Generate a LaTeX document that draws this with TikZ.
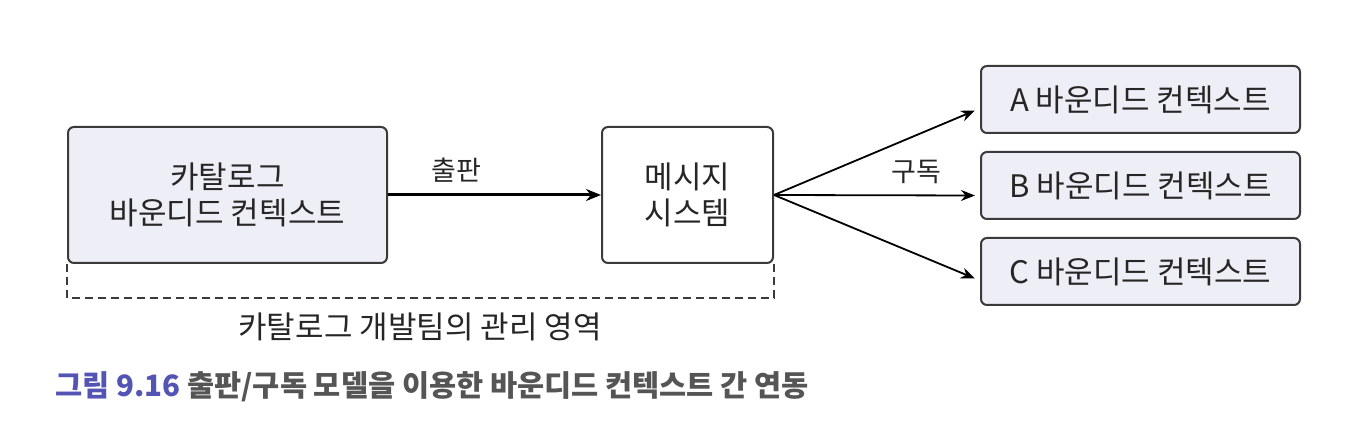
\documentclass[tikz,border=0pt]{standalone}
\usepackage{fontspec}
\setmainfont{Noto Sans CJK KR}
\usetikzlibrary{arrows.meta}
\definecolor{boxfill}{HTML}{EEEEF6}
\definecolor{boxline}{HTML}{3A3A3A}
\definecolor{capblue}{HTML}{5454B4}
\definecolor{capgray}{HTML}{555555}
\begin{document}
\begin{tikzpicture}[x=1pt, y=-1pt,
    ctx/.style={draw=boxline, line width=2pt, rounded corners=6pt, fill=boxfill,
                align=center, font=\fontsize{31}{36}\selectfont, text=black!85},
    pub/.style={line width=3pt, -{Stealth[length=15pt,width=12pt]}},
    sub/.style={line width=1.8pt, -{Stealth[length=14pt,width=11pt]}},
    lbl/.style={font=\fontsize{27}{30}\selectfont, text=black!85}]
    \useasboundingbox (0,0) rectangle (1366,446);

    % 카탈로그 / 메시지 시스템
    \node[ctx, minimum width=319pt, minimum height=136pt] (cat) at (227.5,195) {카탈로그\\바운디드 컨텍스트};
    \node[ctx, fill=white, minimum width=171pt, minimum height=136pt] (msg) at (687.5,195) {메시지\\시스템};

    % 구독하는 컨텍스트
    \node[ctx, minimum width=319pt, minimum height=67pt] (ctxa) at (1140.5,99.5) {A 바운디드 컨텍스트};
    \node[ctx, minimum width=319pt, minimum height=67pt] (ctxb) at (1140.5,185.5) {B 바운디드 컨텍스트};
    \node[ctx, minimum width=319pt, minimum height=67pt] (ctxc) at (1140.5,271.5) {C 바운디드 컨텍스트};

    % 출판
    \draw[pub] (cat.east) -- (msg.west);
    \node[lbl] (publbl) at (456,170) {출판};

    % 구독
    \draw[sub] (msg.east) -- ([xshift=-5pt,yshift=-11pt]ctxa.west);
    \draw[sub] (msg.east) -- ([xshift=-5pt,yshift=-10pt]ctxb.west);
    \draw[sub] (msg.east) -- ([xshift=-5pt,yshift=-7pt]ctxc.west);
    \node[lbl] (sublbl) at (916,172) {구독};

    % 관리 영역
    \draw[boxline, line width=1.6pt, dash pattern=on 8pt off 5pt]
        (cat.south west) -- ++(0,34) -| (msg.south east);
    \node[font=\fontsize{31}{34}\selectfont, text=black!85] (area) at (420,327) {카탈로그 개발팀의 관리 영역};

    % 그림 설명
    \node[anchor=west, font=\bfseries\fontsize{29.5}{34}\selectfont, inner sep=0pt] (cap) at (55,387)
        {\textcolor{capblue}{그림 9.16} \textcolor{capgray}{출판/구독 모델을 이용한 바운디드 컨텍스트 간 연동}};
\end{tikzpicture}
\end{document}
